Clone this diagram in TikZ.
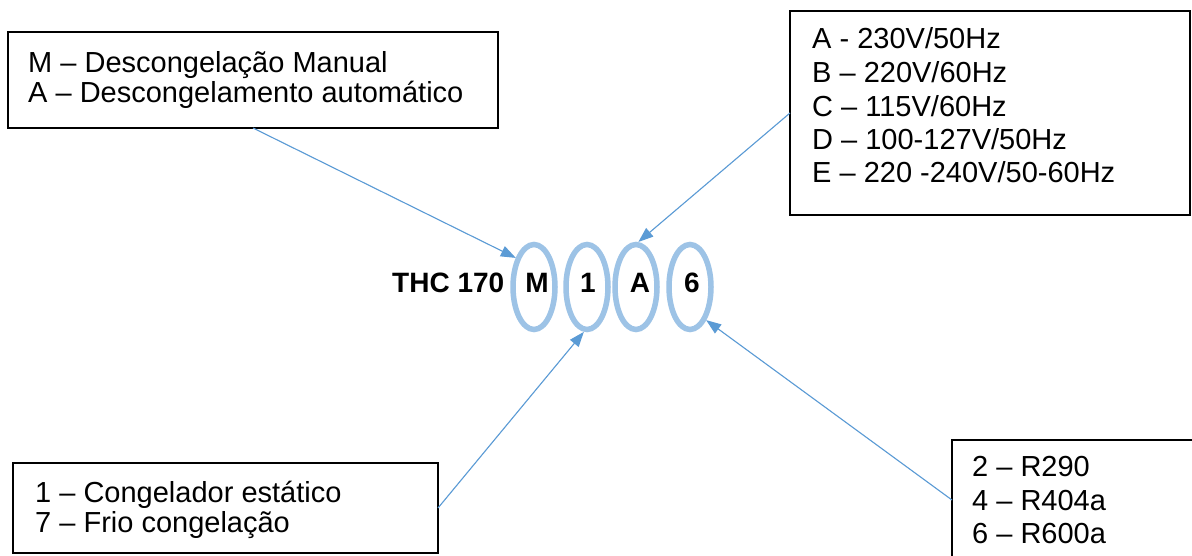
\documentclass[tikz,border=0pt]{standalone}
\usepackage{fontspec}
\setmainfont{Liberation Sans}
\usetikzlibrary{shapes.geometric,arrows.meta}
\definecolor{ringblue}{HTML}{9DC3E6}
\definecolor{arrowblue}{HTML}{5B9BD5}
\tikzset{
  legend/.style={draw=black, line width=1.8pt, rectangle, inner sep=0pt, outer sep=0pt},
  line/.style={anchor=base west, inner sep=0pt, font=\fontsize{29}{33}\selectfont},
  code/.style={anchor=base, inner sep=0pt, font=\fontsize{28}{32}\selectfont\bfseries},
  ring/.style={draw=ringblue, line width=5.5pt, ellipse, inner sep=0pt,
    minimum width=42pt, minimum height=85pt},
  pointer/.style={draw=arrowblue, line width=1.1pt,
    -{Triangle[length=15pt,width=11pt]}, fill=arrowblue}
}
\begin{document}
\begin{tikzpicture}[x=1pt,y=-1pt]
\clip (0,0) rectangle (1192,556);
\fill[white] (0,0) rectangle (1192,556);

% legend boxes
\node[legend, minimum width=490pt, minimum height=96pt] (defrost) at (253,80) {};
\node[legend, minimum width=400pt, minimum height=204pt] (voltage) at (990,113) {};
\node[legend, minimum width=425pt, minimum height=90pt] (cooling) at (225.5,508) {};
\node[legend, minimum width=260pt, minimum height=120pt] (gas) at (1082,500) {};

% legend texts
\node[line] (d1) at (28,73) {M – Descongelação Manual};
\node[line] (d2) at (28,103) {A – Descongelamento automático};

\node[line] (v1) at (812,49) {A - 230V/50Hz};
\node[line] (v2) at (812,83) {B – 220V/60Hz};
\node[line] (v3) at (812,117) {C – 115V/60Hz};
\node[line] (v4) at (812,150) {D – 100-127V/50Hz};
\node[line] (v5) at (812,183) {E – 220 -240V/50-60Hz};

\node[line] (c1) at (35,502) {1 – Congelador estático};
\node[line] (c2) at (35,532) {7 – Frio congelação};

\node[line] (g1) at (972,476) {2 – R290};
\node[line] (g2) at (972,510) {4 – R404a};
\node[line] (g3) at (972,543) {6 – R600a};

% model code
\node[code, anchor=base west] (model) at (392,292) {THC 170};
\node[ring] (e1) at (534,287) {};
\node[ring] (e2) at (587,287) {};
\node[ring] (e3) at (636,287) {};
\node[ring] (e4) at (690,287) {};
\node[code] (k1) at (537,292) {M};
\node[code] (k2) at (588,292) {1};
\node[code] (k3) at (640,292) {A};
\node[code] (k4) at (692,292) {6};

% pointers from legends to code letters
\draw[pointer] (defrost.south) -- (e1.122);
\draw[pointer] (voltage.west) -- (e3.87);
\draw[pointer] (cooling.east) -- (e2.266);
\draw[pointer] (gas.west) -- (e4.296);
\end{tikzpicture}
\end{document}
